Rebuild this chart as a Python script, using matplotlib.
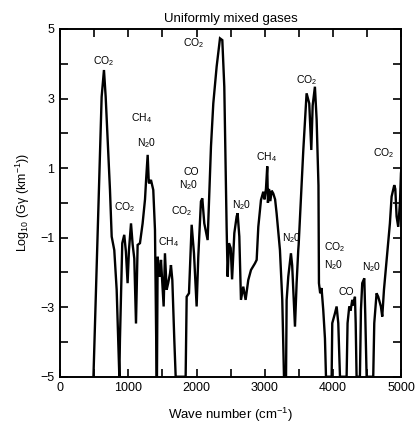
import matplotlib
matplotlib.use("Agg")
import matplotlib.pyplot as plt

plt.rcParams['font.family'] = ['Liberation Sans', 'DejaVu Sans']
plt.rcParams['mathtext.fontset'] = 'custom'
plt.rcParams['mathtext.rm'] = 'Liberation Sans'
plt.rcParams['mathtext.it'] = 'Liberation Sans:italic'

# Spectrum: wave number (cm^-1) and log10(G*gamma)
wavenumber = [490, 610, 644, 669, 732, 757, 795, 830, 854, 869,
              878, 912, 941, 965, 990, 1010, 1040, 1064, 1088, 1113,
              1137, 1171, 1210, 1245, 1262, 1284, 1300, 1308, 1332, 1366,
              1391, 1415, 1420, 1430, 1448, 1464, 1479, 1503, 1518, 1537,
              1562, 1585, 1611, 1625, 1645, 1674, 1694, 1840, 1855, 1889,
              1928, 1962, 2001, 2025, 2064, 2084, 2113, 2162, 2211, 2245,
              2294, 2343, 2377, 2406, 2440, 2455, 2474, 2500, 2520, 2553,
              2587, 2601, 2626, 2650, 2684, 2718, 2757, 2797, 2855, 2880,
              2904, 2943, 2977, 2995, 3016, 3035, 3045, 3060, 3080, 3100,
              3123, 3150, 3172, 3221, 3255, 3280, 3310, 3319, 3343, 3382,
              3400, 3441, 3465, 3489, 3495, 3563, 3611, 3650, 3680, 3700,
              3733, 3758, 3785, 3792, 3810, 3830, 3855, 3880, 3895, 3978,
              3987, 4026, 4051, 4075, 4100, 4197, 4211, 4236, 4255, 4280,
              4300, 4319, 4330, 4343, 4392, 4407, 4426, 4456, 4470, 4490,
              4587, 4602, 4636, 4660, 4699, 4719, 4744, 4783, 4831, 4856,
              4895, 4910, 4929, 4953, 4978, 4993, 5000]
log_g = [-5.0, 3.05, 3.82, 3.05, 0.37, -0.97, -1.36, -2.5, -4.1, -5.0,
         -3.94, -1.16, -0.92, -1.4, -2.31, -1.36, -0.59, -1.2, -1.6, -3.47,
         -1.21, -1.16, -0.59, 0.1, 0.7, 1.38, 0.6, 0.56, 0.66, 0.37,
         -0.78, -5.0, -5.0, -1.55, -1.9, -2.12, -1.64, -2.5, -2.98, -1.45,
         -2.5, -2.3, -2.03, -1.79, -2.22, -3.94, -5.0, -5.0, -2.7, -2.6,
         -0.63, -1.45, -2.98, -1.55, 0.04, 0.13, -0.59, -1.07, 1.62, 2.86,
         3.92, 4.73, 4.68, 3.34, -0.69, -2.12, -1.16, -1.3, -2.2, -0.87,
         -0.39, -0.3, -0.97, -2.79, -2.41, -2.79, -2.22, -1.93, -1.74, -1.64,
         -0.69, 0.08, 0.32, 0.1, 0.4, 1.05, 0.0, 0.4, 0.05, 0.35,
         0.27, 0.1, -0.3, -1.36, -2.79, -5.0, -5.0, -2.79, -2.12, -1.45,
         -1.8, -3.56, -2.31, -1.36, -1.2, 1.52, 3.15, 2.86, 1.52, 2.8,
         3.34, 2.4, 0.5, -2.31, -2.6, -2.45, -3.08, -3.9, -5.0, -5.0,
         -3.46, -3.18, -2.98, -3.46, -5.0, -5.0, -3.46, -2.98, -3.1, -2.79,
         -2.95, -2.7, -3.46, -5.0, -5.0, -3.08, -2.31, -2.17, -3.2, -5.0,
         -5.0, -3.46, -2.6, -2.7, -2.98, -3.27, -2.5, -1.64, -0.59, 0.18,
         0.51, 0.4, -0.39, -0.69, -0.01, 0.85, 1.0]

# Band labels and where they sit (wave number, log value)
band_labels = ["CO$_2$", "CO$_2$", "CO$_2$", "CH$_4$", "N$_2$0", "CO$_2$",
               "CH$_4$", "CO", "N$_2$0", "CO$_2$", "N$_2$0", "CH$_4$",
               "N$_2$0", "CO$_2$", "N$_2$0", "CO", "N$_2$0", "CO$_2$"]
label_x = [634, 1952, 3612, 1196, 1269, 952,
           1586, 1928, 1879, 1781, 2660, 3026,
           3392, 4026, 4002, 4197, 4563, 4734]
label_y = [4.08, 4.59, 3.53, 2.43, 1.71, -0.11,
           -1.12, 0.9, 0.51, -0.25, -0.06, 1.33,
           -1.02, -1.26, -1.79, -2.55, -1.84, 1.42]

x_ticks = [0, 1000, 2000, 3000, 4000, 5000]
y_ticks = [-5, -3, -1, 1, 3, 5]

fig = plt.figure(figsize=(4.16, 4.25), dpi=100)
ax = fig.add_axes([0.1442, 0.1136, 0.8208, 0.8182])

ax.plot(wavenumber, log_g, color='black', lw=1.7, solid_joinstyle='miter')

for t, x, y in zip(band_labels, label_x, label_y):
    ax.text(x, y, t, ha='center', va='center', fontsize=7.5)

ax.set_xlim(0, 5000)
ax.set_ylim(-5, 5)
ax.set_xticks(x_ticks)
ax.set_xticks(range(0, 5001, 500), minor=True)
ax.set_yticks(y_ticks)
ax.set_yticks(range(-5, 6), minor=True)
ax.tick_params(which='both', direction='in', top=True, right=True,
               labelsize=9, width=1.2, pad=4)
ax.tick_params(which='major', length=5.5)
ax.tick_params(which='minor', length=5.5)
for s in ax.spines.values():
    s.set_linewidth(1.4)

ax.set_title("Uniformly mixed gases", fontsize=9.5, pad=5)
ax.set_xlabel("Wave number (cm$^{-1}$)", fontsize=9.5, labelpad=8)
ax.set_ylabel("Log$_{10}$ (G\u03b3 (km$^{-1}$))", fontsize=9, labelpad=6)

fig.savefig("out.png", dpi=100)
